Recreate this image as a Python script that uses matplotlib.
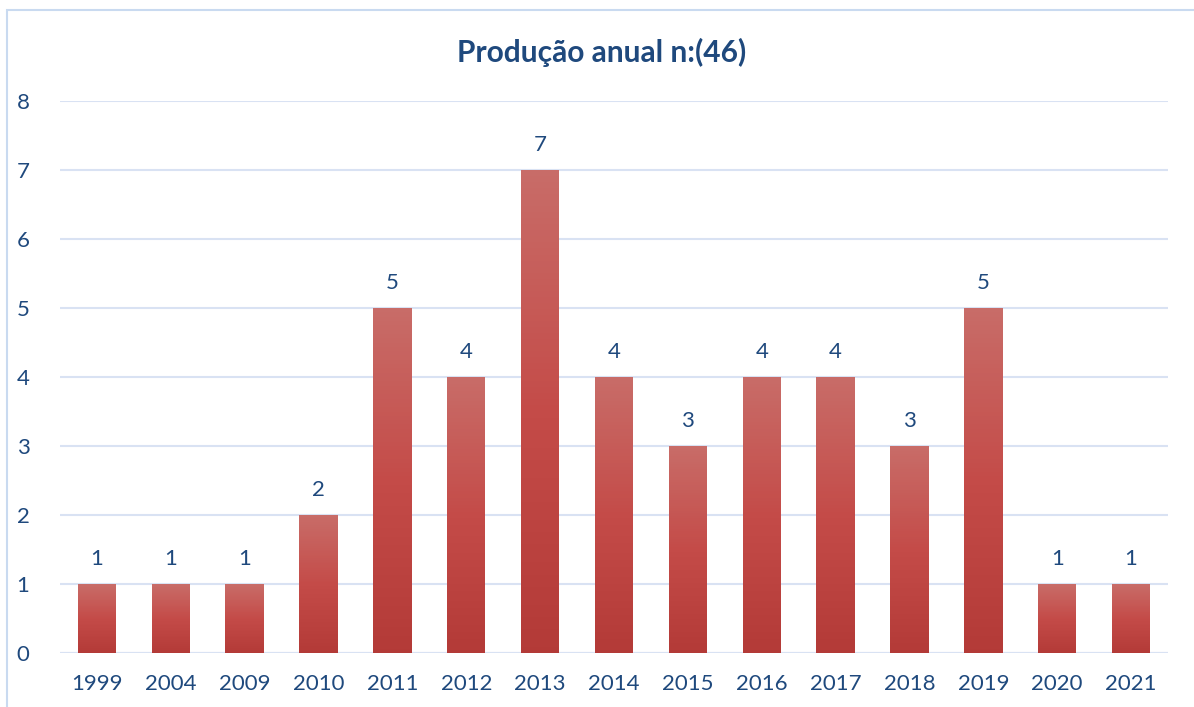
import numpy as np
import matplotlib
matplotlib.use("Agg")
from matplotlib import pyplot as plt
from matplotlib.colors import LinearSegmentedColormap
from matplotlib.patches import Rectangle

# data
years = ["1999", "2004", "2009", "2010", "2011", "2012", "2013",
         "2014", "2015", "2016", "2017", "2018", "2019", "2020", "2021"]
counts = [1, 1, 1, 2, 5, 4, 7, 4, 3, 4, 4, 3, 5, 1, 1]
title = "Produção anual n:(46)"

txt_color = "#1F497D"
grid_color = "#D9E2F3"
plt.rcParams['font.family'] = ['Lato', 'DejaVu Sans']

fig = plt.figure(figsize=(11.94, 7.07), dpi=100)
W, H = 1194, 707
ax = fig.add_axes([60 / W, 54 / H, 1108 / W, 552 / H])

# chart-area border (light blue)
fig.patches.append(Rectangle((7 / W, -0.1), 1.2, (H - 10) / H + 0.1,
                             transform=fig.transFigure, fill=False,
                             edgecolor="#C9DAF0", linewidth=1.5))

x = np.arange(len(years))
width = 0.52

# vertical gradient on each bar: lighter top, darker bottom
cmap = LinearSegmentedColormap.from_list(
    "bar", [(0.0, "#B33A37"), (0.5, "#C44B48"), (1.0, "#C86C68")])
n = 80
for xi, c in zip(x, counts):
    step = c / n
    for k in range(n):
        ax.bar(xi, step * 1.02, bottom=k * step, width=width,
               color=cmap((k + 0.5) / n), linewidth=0,
               antialiased=False, zorder=3)

for xi, c in zip(x, counts):
    ax.annotate(str(c), (xi, c), xytext=(0, 18), textcoords="offset points",
                ha="center", va="center", fontsize=16, color=txt_color)

ax.set_xlim(-0.5, len(years) - 0.5)
ax.set_ylim(0, 8)
ax.set_yticks(range(0, 9))
ax.set_xticks(x)
ax.set_xticklabels(years)
ax.tick_params(axis="both", length=0, labelsize=16, labelcolor=txt_color)
ax.tick_params(axis="x", pad=15)
ax.tick_params(axis="y", pad=22)
ax.grid(axis="y", color=grid_color, linewidth=1.5, zorder=0)
ax.set_axisbelow(True)
for s in ax.spines.values():
    s.set_visible(False)
ax.axhline(0, color=grid_color, linewidth=1.5, zorder=1)

fig.text(602 / W, 1 - 52 / H, title, ha="center", va="center",
         fontsize=21.5, fontweight="bold", color=txt_color)

fig.savefig("out.png", dpi=100)
